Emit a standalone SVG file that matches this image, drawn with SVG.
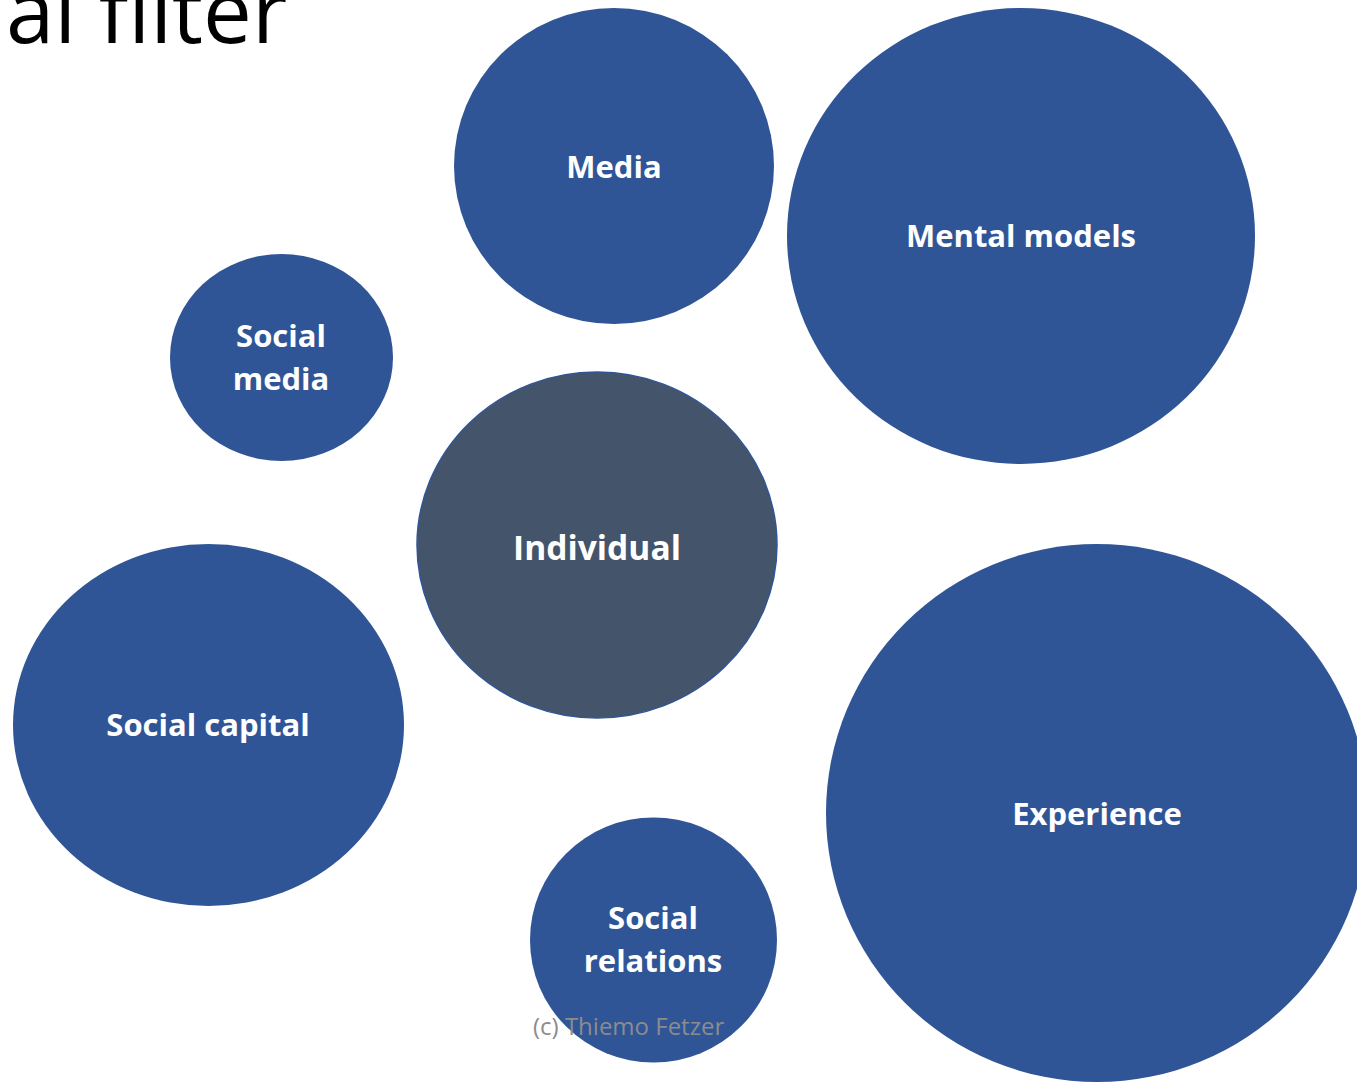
<svg xmlns="http://www.w3.org/2000/svg" width="1357" height="1082" viewBox="0 0 1357 1082">
<style>
.n{fill:#2F5597}
.ind{fill:#44546A;stroke:#2F5597;stroke-width:1.5}
.t{fill:#FFFFFF;font-family:"Open Sans","Noto Sans","Liberation Sans",sans-serif;font-weight:bold;font-size:31px;text-anchor:middle}
.title{fill:#000000;font-family:"Open Sans","Noto Sans","Liberation Sans",sans-serif;font-weight:400;font-size:87px}
.wm{fill:#8C8C8C;font-family:"Open Sans","Noto Sans","Liberation Sans",sans-serif;font-size:24px}
</style>
<rect width="1357" height="1082" fill="#FFFFFF"/>
<text class="title" x="6" y="43">al filter</text>
<g id="connectors"></g>
<g id="media"><ellipse class="n" cx="614" cy="166" rx="160" ry="158"/><text class="t" x="614" y="178">Media</text></g>
<g id="mental-models"><ellipse class="n" cx="1021" cy="236" rx="234" ry="228"/><text class="t" x="1021" y="247">Mental models</text></g>
<g id="social-media"><ellipse class="n" cx="281.5" cy="357.5" rx="111.5" ry="103.5"/><text class="t" x="281" y="347">Social</text><text class="t" x="281" y="390">media</text></g>
<g id="individual"><ellipse class="ind" cx="597" cy="545" rx="180" ry="173"/><text class="t" x="597" y="560" style="font-size:33.6px">Individual</text></g>
<g id="social-capital"><ellipse class="n" cx="208.5" cy="725" rx="195.5" ry="181"/><text class="t" x="208" y="736">Social capital</text></g>
<g id="experience"><ellipse class="n" cx="1097" cy="813" rx="271" ry="269"/><text class="t" x="1097" y="825">Experience</text></g>
<g id="social-relations"><ellipse class="n" cx="653.5" cy="940" rx="123.5" ry="122.5"/><text class="t" x="653" y="929">Social</text><text class="t" x="653" y="972">relations</text></g>
<text class="wm" x="533" y="1035">(c) Thiemo Fetzer</text>
</svg>
